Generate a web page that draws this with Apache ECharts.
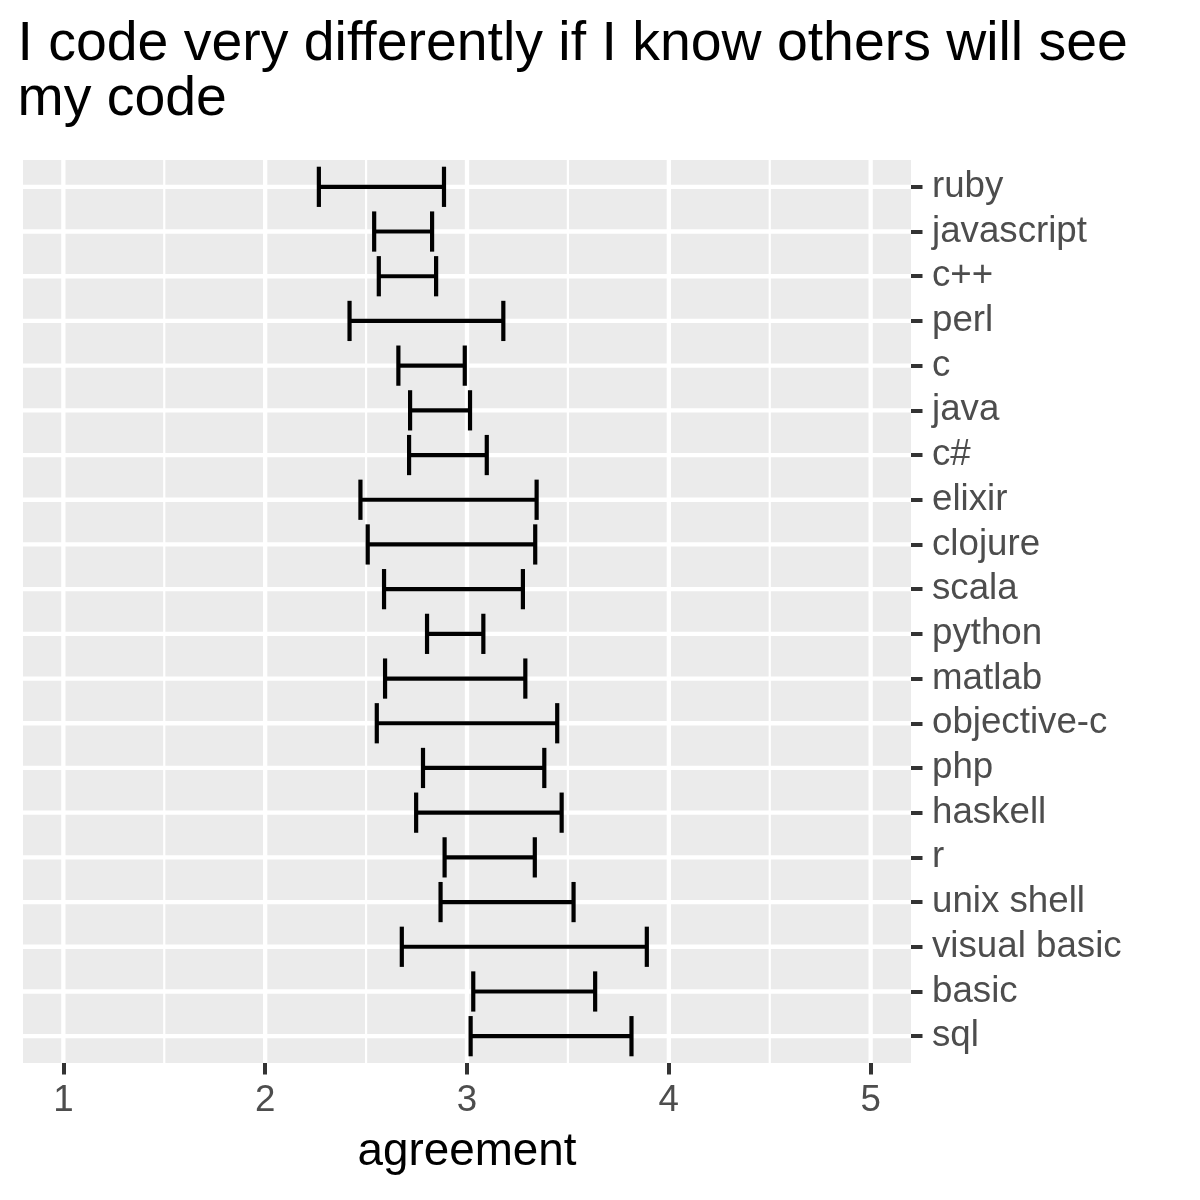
<!DOCTYPE html>
<html>
<head>
<meta charset="utf-8">
<script src="https://cdn.jsdelivr.net/npm/echarts@6/dist/echarts.min.js"></script>
<style>html,body{margin:0;padding:0;background:#fff}#chart{width:1200px;height:1200px}</style>
</head>
<body>
<div id="chart"></div>
<script>
const categories = ['ruby','javascript','c++','perl','c','java','c#','elixir','clojure','scala','python','matlab','objective-c','php','haskell','r','unix shell','visual basic','basic','sql'];
const lower = [2.266,2.540,2.563,2.418,2.660,2.718,2.713,2.472,2.508,2.589,2.802,2.594,2.553,2.782,2.748,2.889,2.869,2.677,3.031,3.018];
const upper = [2.886,2.827,2.847,3.180,2.989,3.015,3.098,3.345,3.338,3.277,3.081,3.289,3.447,3.383,3.469,3.336,3.528,3.891,3.635,3.815];
const xTicks = [1,2,3,4,5];
const xMinorGrid = [1.5,2.5,3.5,4.5];

const FONT = 'Liberation Sans';
const catIdx = categories.map((c,i)=>i);
const errData = categories.map((c,i)=>[i, lower[i], upper[i]]);

const chart = echarts.init(document.getElementById('chart'), null, {renderer:'canvas'});
chart.setOption({
  backgroundColor:'#ffffff',
  animation:false,
  title:{
    text:'I code very differently if I know others will see\nmy code',
    left:17.5, top:17, padding:0,
    textStyle:{fontFamily:FONT, fontSize:55.4, lineHeight:55, fontWeight:'normal', color:'#000000'}
  },
  grid:{left:23, right:289, top:160, bottom:137, show:true, backgroundColor:'#EBEBEB', borderWidth:0, containLabel:false},
  xAxis:{
    type:'value', min:0.8, max:5.2, position:'bottom',
    axisLine:{show:false, onZero:false},
    splitLine:{show:false},
    axisTick:{show:true, length:11.5, customValues:xTicks, lineStyle:{color:'#333333', width:4}},
    axisLabel:{show:true, customValues:xTicks, margin:19, color:'#4D4D4D', fontFamily:FONT, fontSize:36.7},
    name:'agreement', nameLocation:'middle', nameGap:66,
    nameTextStyle:{fontFamily:FONT, fontSize:45.8, color:'#000000'}
  },
  yAxis:{
    type:'value', min:-0.6, max:19.6, inverse:true, position:'right',
    axisLine:{show:false, onZero:false},
    splitLine:{show:false},
    axisTick:{show:true, length:11.5, customValues:catIdx, lineStyle:{color:'#333333', width:4}},
    axisLabel:{show:true, customValues:catIdx, margin:21, color:'#4D4D4D', fontFamily:FONT, fontSize:36.7,
      formatter:(v)=>categories[Math.round(v)]}
  },
  series:[
    {
      type:'custom', z:1, silent:true,
      data:xTicks.map(v=>[v,1]).concat(xMinorGrid.map(v=>[v,0])),
      encode:{x:0},
      renderItem:(params, api)=>{
        const cs = params.coordSys;
        const x = api.coord([api.value(0), 0])[0];
        const major = api.value(1) === 1;
        return {type:'line', shape:{x1:x, y1:cs.y, x2:x, y2:cs.y+cs.height},
          style:{stroke:'#FFFFFF', lineWidth: major ? 4.3 : 2.2}};
      }
    },
    {
      type:'custom', z:1, silent:true,
      data:catIdx.map(i=>[i]),
      encode:{y:0},
      renderItem:(params, api)=>{
        const cs = params.coordSys;
        const y = api.coord([1, api.value(0)])[1];
        return {type:'line', shape:{x1:cs.x, y1:y, x2:cs.x+cs.width, y2:y},
          style:{stroke:'#FFFFFF', lineWidth:4.3}};
      }
    },
    {
      type:'custom', z:3, silent:true,
      data:errData,
      encode:{y:0, x:[1,2]},
      renderItem:(params, api)=>{
        const i = api.value(0);
        const p1 = api.coord([api.value(1), i]);
        const p2 = api.coord([api.value(2), i]);
        const h = api.size([0,1])[1] * 0.45;
        const st = {stroke:'#000000', lineWidth:4.2, fill:null, lineCap:'butt'};
        return {type:'group', children:[
          {type:'line', shape:{x1:p1[0], y1:p1[1], x2:p2[0], y2:p2[1]}, style:st},
          {type:'line', shape:{x1:p1[0], y1:p1[1]-h, x2:p1[0], y2:p1[1]+h}, style:st},
          {type:'line', shape:{x1:p2[0], y1:p2[1]-h, x2:p2[0], y2:p2[1]+h}, style:st}
        ]};
      }
    }
  ]
});
</script>
</body>
</html>
